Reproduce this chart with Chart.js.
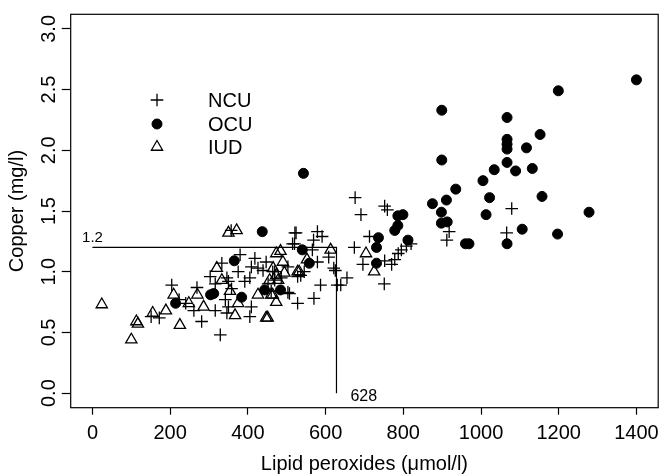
<!DOCTYPE html>
<html><head><meta charset="utf-8">
<script src="https://cdn.jsdelivr.net/npm/chart.js@4/dist/chart.umd.min.js"></script>
<style>html,body{margin:0;padding:0;background:#fff}#wrap{width:666px;height:476px}</style>
</head><body><div id="wrap"><canvas id="c" width="666" height="476"></canvas></div>
<script>
const xTicks=[0,200,400,600,800,1000,1200,1400];
const yTicks=[0,0.5,1,1.5,2,2.5,3];
const seriesNames=['NCU','OCU','IUD'];

const ncuX=[151,172,204,223,240,261,269,281,303,316,316,329,333,342,346,346,350,350,357,358,375,380,392,405,405,409,409,418,426,439,447,452,460,464,469,469,486,503,503,507,515,520,521,524,528,528,536,545,566,569,570,579,579,587,591,608,621,625,630,639,655,674,676,691,696,713,751,752,752,759,770,778,787,795,808,820,912,918,1066,1079];
const ncuY=[0.63,0.62,0.89,0.77,0.74,0.68,0.87,0.59,0.96,0.68,0.90,0.48,1.07,0.77,0.66,0.95,0.92,0.71,1.34,0.86,1.00,1.14,0.92,0.63,0.95,1.04,0.71,1.11,1.03,1.01,1.08,0.90,0.84,1.00,1.00,0.93,0.95,1.04,0.83,0.82,1.23,1.23,1.32,1.32,0.96,0.74,0.97,1.00,1.18,1.26,0.78,1.33,1.08,0.89,1.29,1.12,1.03,1.01,0.89,0.89,0.95,1.20,1.61,1.47,1.06,1.29,0.90,1.54,1.09,1.51,1.06,1.10,1.15,1.18,1.21,1.23,1.26,1.33,1.32,1.52];

const ocuX=[214,304,312,365,384,437,443,484,540,543,558,731,731,736,778,786,786,799,812,875,899,899,898,898,911,913,935,960,969,1005,1013,1022,1034,1067,1067,1067,1067,1067,1067,1089,1106,1117,1132,1152,1157,1197,1199,1278,1400];
const ocuY=[0.74,0.81,0.82,1.09,0.79,1.33,0.85,0.85,1.18,1.81,1.07,1.20,1.07,1.28,1.34,1.38,1.46,1.47,1.26,1.56,2.33,1.92,1.49,1.40,1.59,1.41,1.68,1.23,1.23,1.75,1.47,1.61,1.84,2.27,2.09,2.05,2.01,1.90,1.23,1.83,1.35,2.02,1.85,2.13,1.62,1.31,2.49,1.49,2.58];

const iudX=[24,100,113,117,155,189,209,225,248,270,286,320,333,350,354,367,371,375,426,447,451,456,460,464,465,473,473,473,478,484,490,494,528,532,552,613,704,725];
const iudY=[0.73,0.44,0.59,0.57,0.66,0.68,0.81,0.56,0.74,0.81,0.71,1.03,0.93,1.32,0.84,0.64,1.34,0.74,0.81,0.62,0.62,0.93,0.81,0.81,1.03,1.15,0.97,0.75,0.93,1.17,1.08,0.99,1.00,1.00,1.10,1.18,1.15,1.00];

const cutX=628, cutY=1.2;
const refX=[0,cutX,cutX];
const refY=[cutY,cutY,0];

const toPts=(xs,ys)=>xs.map((x,i)=>({x:x,y:ys[i]}));
const FONT='"Liberation Sans", Arial, Helvetica, sans-serif';
Chart.defaults.font.family=FONT;
Chart.defaults.color='#000';

const styles=[
  {pointStyle:'cross',radius:6.3,borderWidth:1.3,bg:'rgba(0,0,0,0)'},
  {pointStyle:'circle',radius:5,borderWidth:1,bg:'#000'},
  {pointStyle:'triangle',radius:6.5,borderWidth:1.3,bg:'rgba(0,0,0,0)'}
];

const extras={id:'extras',
  afterDraw(chart){
    const {ctx,chartArea:a,scales:{x,y}}=chart;
    ctx.save();
    ctx.strokeStyle='#000';ctx.lineWidth=1.2;
    ctx.strokeRect(a.left,a.top,a.right-a.left,a.bottom-a.top);
    // legend
    const lx=157, ly=[100,124,147], tx=208;
    ctx.font='20px '+FONT;ctx.fillStyle='#000';ctx.textBaseline='middle';ctx.textAlign='left';
    seriesNames.forEach((n,i)=>{
      const s=styles[i];
      ctx.strokeStyle='#000';ctx.fillStyle=s.bg;ctx.lineWidth=s.borderWidth;
      Chart.helpers.drawPoint(ctx,{pointStyle:s.pointStyle,radius:s.radius,borderWidth:s.borderWidth,rotation:0},lx,ly[i]);
      ctx.fillStyle='#000';
      ctx.fillText(n,tx,ly[i]+1);
    });
    // annotation labels
    ctx.font='15px '+FONT;
    ctx.textAlign='center';ctx.textBaseline='alphabetic';
    ctx.fillText(String(cutY),x.getPixelForValue(0),y.getPixelForValue(cutY)-5);
    ctx.font='16px '+FONT;
    ctx.textAlign='left';ctx.textBaseline='middle';
    ctx.fillText(String(cutX),x.getPixelForValue(cutX)+14,y.getPixelForValue(0)+3);
    ctx.restore();
  }
};

new Chart(document.getElementById('c'),{
  type:'scatter',
  data:{datasets:[
    {label:'cut',data:toPts(refX,refY),showLine:true,borderColor:'#000',borderWidth:1.2,pointRadius:0,fill:false,order:5},
    ...seriesNames.map((n,i)=>({label:n,data:i===0?toPts(ncuX,ncuY):i===1?toPts(ocuX,ocuY):toPts(iudX,iudY),
      pointStyle:styles[i].pointStyle,pointRadius:styles[i].radius,pointBorderWidth:styles[i].borderWidth,
      borderColor:'#000',backgroundColor:styles[i].bg,pointHoverRadius:styles[i].radius}))
  ]},
  options:{
    responsive:false,animation:false,devicePixelRatio:1,
    layout:{padding:{top:14.3,right:1.5,left:0,bottom:0}},
    plugins:{legend:{display:false},tooltip:{enabled:false}},
    scales:{
      x:{type:'linear',min:-56,max:1456,
        afterBuildTicks:s=>{s.ticks=xTicks.map(v=>({value:v}));},
        afterFit:s=>{s.height=68.3;},
        ticks:{autoSkip:false,maxRotation:0,font:{size:20},padding:7,callback:v=>String(v)},
        grid:{display:true,drawOnChartArea:false,drawTicks:true,tickLength:7,tickColor:'#000',tickWidth:1.2},
        border:{display:false},
        title:{display:true,text:'Lipid peroxides (μmol/l)',font:{size:20},padding:{top:0,bottom:0}}
      },
      y:{type:'linear',min:-0.12,max:3.12,
        afterBuildTicks:s=>{s.ticks=yTicks.map(v=>({value:v}));},
        afterFit:s=>{s.width=70.7;},
        ticks:{autoSkip:false,minRotation:90,maxRotation:90,crossAlign:'center',font:{size:20},padding:-2,callback:v=>v.toFixed(1)},
        grid:{display:true,drawOnChartArea:false,drawTicks:true,tickLength:9,tickColor:'#000',tickWidth:1.2},
        border:{display:false},
        title:{display:true,text:'Copper (mg/l)',font:{size:20},padding:{top:5,bottom:0}}
      }
    }
  },
  plugins:[extras]
});
</script></body></html>
